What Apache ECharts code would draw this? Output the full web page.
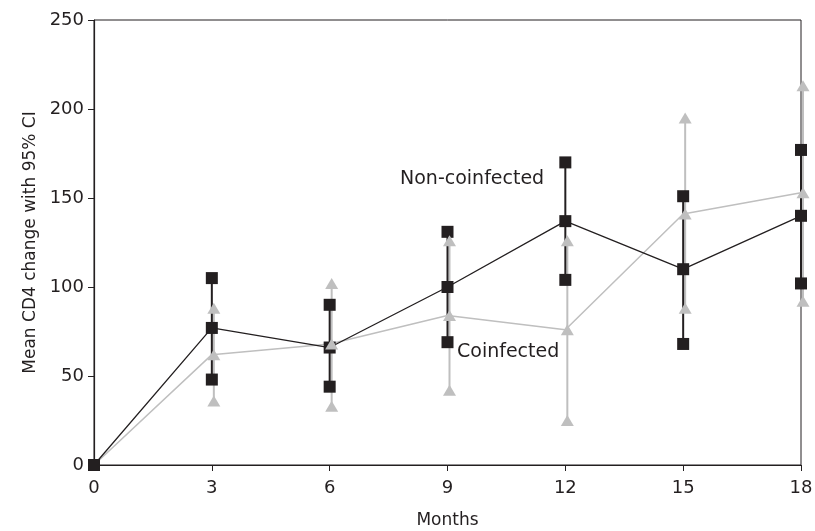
<!DOCTYPE html>
<html>
<head>
<meta charset="utf-8">
<style>html,body{margin:0;padding:0;background:#fff}#c{width:815px;height:531px}</style>
<script src="https://cdn.jsdelivr.net/npm/echarts@6/dist/echarts.min.js"></script>
</head>
<body>
<div id="c"></div>
<script>
const months = [0, 3, 6, 9, 12, 15, 18];
const nonMean = [0, 77, 66, 100, 137, 110, 140];
const nonLow  = [0, 48, 44, 69, 104, 68, 102];
const nonHigh = [0, 105, 90, 131, 170, 151, 177];
const coMean  = [0, 62, 68, 84, 76, 141, 153];
const coLow   = [0, 36, 33, 42, 25, 88, 92];
const coHigh  = [0, 88, 102, 126, 126, 195, 213];
const yTicks = [0, 50, 100, 150, 200, 250];

const BLACK = '#231f20';
const GREY = '#bfbfbf';
const FONT = 'DejaVu Sans';

function bars(low, high) {
  const out = [];
  months.forEach((m, i) => { if (i > 0) out.push([m, low[i], high[i]]); });
  return out;
}
function pts(vals, skipZero) {
  const out = [];
  months.forEach((m, i) => { if (!(skipZero && i === 0)) out.push([m, vals[i]]); });
  return out;
}
function barSeries(data, color, off, z) {
  return {
    type: 'custom', z: z, silent: true, data: data,
    renderItem: function (params, api) {
      const p1 = api.coord([api.value(0), api.value(1)]);
      const p2 = api.coord([api.value(0), api.value(2)]);
      return { type: 'line', shape: { x1: p1[0] + off, y1: p1[1], x2: p2[0] + off, y2: p2[1] },
               style: { stroke: color, lineWidth: 2 } };
    }
  };
}

const chart = echarts.init(document.getElementById('c'), null, { renderer: 'canvas' });
chart.setOption({
  animation: false,
  grid: { left: 94, right: 14, top: 20, bottom: 66, outerBoundsMode: 'none', containLabel: false,
          show: true, borderColor: BLACK, borderWidth: 1 },
  xAxis: {
    type: 'value', min: 0, max: 18, interval: 3,
    name: 'Months', nameLocation: 'middle', nameGap: 47,
    nameTextStyle: { fontFamily: FONT, fontSize: 17, color: BLACK },
    axisLine: { show: true, lineStyle: { color: BLACK, width: 1.2 } },
    axisTick: { show: true, length: 6, lineStyle: { color: BLACK } },
    axisLabel: { fontFamily: FONT, fontSize: 18, color: BLACK, margin: 14 },
    splitLine: { show: false }
  },
  yAxis: {
    type: 'value', min: yTicks[0], max: yTicks[yTicks.length - 1], interval: 50,
    name: 'Mean CD4 change with 95% CI', nameLocation: 'middle', nameGap: 47,
    nameTextStyle: { fontFamily: FONT, fontSize: 17, color: BLACK },
    axisLine: { show: true, lineStyle: { color: BLACK, width: 1.2 } },
    axisTick: { show: true, length: 6, lineStyle: { color: BLACK } },
    axisLabel: { fontFamily: FONT, fontSize: 18, color: BLACK, margin: 10 },
    splitLine: { show: false }
  },
  series: [
    barSeries(bars(coLow, coHigh), GREY, 2, 1),
    barSeries(bars(nonLow, nonHigh), BLACK, 0, 2),
    { type: 'line', z: 3, data: pts(coMean), showSymbol: false, lineStyle: { color: GREY, width: 1.5 } },
    { type: 'line', z: 4, data: pts(nonMean), showSymbol: false, lineStyle: { color: BLACK, width: 1.3 } },
    { type: 'scatter', z: 5, symbol: 'rect', symbolSize: 12, itemStyle: { color: BLACK, opacity: 1 },
      data: pts(nonMean).concat(pts(nonLow, true), pts(nonHigh, true)) },
    { type: 'scatter', z: 6, symbol: 'triangle', symbolSize: [13, 11], itemStyle: { color: GREY, opacity: 1 },
      symbolOffset: [2, 0],
      data: pts(coMean, true).concat(pts(coLow, true), pts(coHigh, true)) }
  ],
  graphic: [
    { type: 'text', left: 400, top: 170, style: { text: 'Non-coinfected', fontFamily: FONT, fontSize: 19, fill: BLACK } },
    { type: 'text', left: 457, top: 343, style: { text: 'Coinfected', fontFamily: FONT, fontSize: 19, fill: BLACK } }
  ]
});
</script>
</body>
</html>
